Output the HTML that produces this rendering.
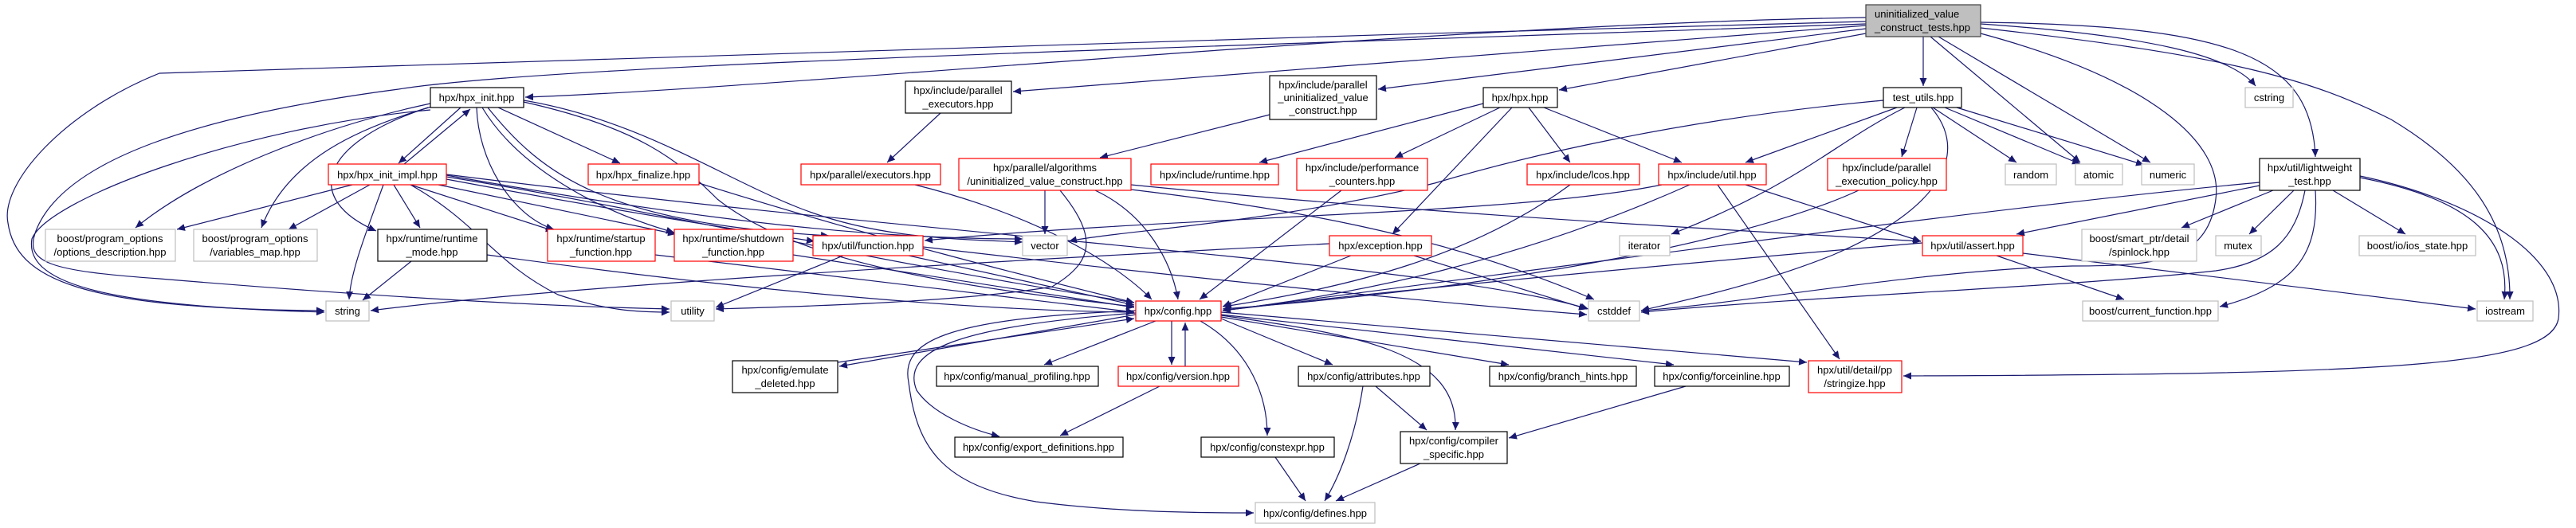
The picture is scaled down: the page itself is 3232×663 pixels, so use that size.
<!DOCTYPE html>
<html><head><meta charset="utf-8"><style>
html,body{margin:0;padding:0;background:#fff;width:3232px;height:663px;overflow:hidden}
svg text{font-family:"Liberation Sans",Arial,sans-serif;font-size:13px;fill:#000}
</style></head><body>
<svg width="3232" height="663" viewBox="0 0 3232 663" xmlns="http://www.w3.org/2000/svg">
<defs><marker id="a" markerUnits="userSpaceOnUse" markerWidth="11" markerHeight="9" refX="10" refY="4.5" orient="auto"><path d="M0,0 L10,4.5 L0,9 z" fill="#191970"/></marker></defs>
<g fill="none" stroke="#191970" stroke-width="1.2" marker-end="url(#a)">
<path d="M2341,22 C1800,30 1000,110 659,122"/>
<path d="M2341,27 C1500,50 400,80 200,92 C80,140 0,230 10,280 C20,350 100,388 407,390"/>
<path d="M2341,30 C1500,60 700,80 500,112 C250,145 80,200 45,290 C30,330 60,340 200,350 C500,375 700,385 840,388"/>
<path d="M2341,32 L1271,115"/>
<path d="M2341,36 L1729,112"/>
<path d="M2341,42 L1956,113"/>
<path d="M2413,46 L2413,108"/>
<path d="M2422,46 L2610,204"/>
<path d="M2432,46 L2698,204"/>
<path d="M2485,30 C2700,45 2800,70 2830,108"/>
<path d="M2485,28 C2800,32 2900,70 2905,197"/>
<path d="M2485,35 C2800,70 2900,100 3000,150 C3100,210 3150,280 3149,376"/>
<path d="M2485,42 C2700,100 2790,180 2780,250 C2770,330 2700,334 2600,334 C2400,340 2200,380 2059,390"/>
<path d="M578,135 L500,205"/>
<path d="M507,206 L590,137"/>
<path d="M540,130 C400,160 250,220 170,286"/>
<path d="M545,133 C450,160 360,200 328,286"/>
<path d="M537,135 C400,180 380,250 472,290"/>
<path d="M540,138 C300,160 60,250 40,300 C30,360 150,385 407,392"/>
<path d="M625,135 L778,205"/>
<path d="M598,135 C600,200 640,270 695,288"/>
<path d="M605,135 C650,210 750,265 846,292"/>
<path d="M612,135 C680,220 760,280 1040,296"/>
<path d="M657,128 C800,160 850,200 900,250 C1000,330 1200,360 1423,385"/>
<path d="M657,126 C800,150 900,220 1000,260 C1100,300 1200,300 1283,304"/>
<path d="M442,232 L222,288"/>
<path d="M464,232 L362,288"/>
<path d="M494,232 L527,286"/>
<path d="M481,232 C460,290 440,340 438,376"/>
<path d="M515,232 L695,290"/>
<path d="M550,232 L848,294"/>
<path d="M560,225 C800,270 1000,300 1022,303"/>
<path d="M560,222 C800,260 1100,330 1423,380"/>
<path d="M515,232 C600,280 620,330 700,370 C760,390 800,392 840,392"/>
<path d="M560,220 C900,280 1100,300 1283,300"/>
<path d="M560,219 C1200,300 1800,330 1993,388"/>
<path d="M516,328 L455,377"/>
<path d="M611,320 C900,360 1200,390 1423,392"/>
<path d="M822,320 L1423,392"/>
<path d="M995,320 L1423,386"/>
<path d="M877,230 C1100,300 1300,350 1423,380"/>
<path d="M1058,321 L898,386"/>
<path d="M1140,321 L1423,383"/>
<path d="M1158,310 C1500,350 1800,380 1991,395"/>
<path d="M1180,142 L1113,204"/>
<path d="M1148,232 C1300,270 1400,330 1445,376"/>
<path d="M1593,144 L1380,198"/>
<path d="M1311,239 L1311,294"/>
<path d="M1374,239 C1440,270 1470,330 1478,376"/>
<path d="M1330,239 C1380,300 1370,330 1320,360 C1200,380 1000,385 898,388"/>
<path d="M1419,238 C1600,260 1800,290 2000,376"/>
<path d="M1419,232 C1800,270 2200,290 2410,303"/>
<path d="M1683,239 L1505,376"/>
<path d="M1970,232 C1850,320 1700,360 1535,385"/>
<path d="M2120,232 C1900,330 1700,370 1534,390"/>
<path d="M2085,232 C1900,270 1500,270 1160,302"/>
<path d="M2190,232 L2410,303"/>
<path d="M2155,232 L2308,451"/>
<path d="M1861,130 L1580,204"/>
<path d="M1882,135 L1750,198"/>
<path d="M1897,135 L1747,294"/>
<path d="M1918,135 L1970,204"/>
<path d="M1937,135 L2110,204"/>
<path d="M1695,321 L1534,385"/>
<path d="M1668,306 C1200,330 700,360 465,390"/>
<path d="M1774,321 L1991,388"/>
<path d="M2380,135 L2190,204"/>
<path d="M2405,135 L2386,197"/>
<path d="M2425,135 L2530,204"/>
<path d="M2440,135 L2610,206"/>
<path d="M2455,135 L2690,207"/>
<path d="M2390,135 C2300,180 2260,230 2097,294"/>
<path d="M2423,135 C2470,190 2440,260 2300,320 C2200,360 2100,380 2059,390"/>
<path d="M2363,126 C2100,150 1900,200 1800,230 C1600,280 1400,290 1341,303"/>
<path d="M2332,239 C2200,300 1900,360 1534,388"/>
<path d="M2412,305 C2000,340 1700,370 1534,390"/>
<path d="M2505,321 L2665,376"/>
<path d="M2538,318 L3106,388"/>
<path d="M2835,233 L2530,294"/>
<path d="M2835,229 C2500,260 2000,330 1534,390"/>
<path d="M2892,239 C2880,300 2850,330 2780,340 C2600,360 2300,370 2059,392"/>
<path d="M2905,239 C2910,320 2880,360 2785,385"/>
<path d="M2852,239 L2737,286"/>
<path d="M2878,239 L2822,294"/>
<path d="M2927,239 L3018,294"/>
<path d="M2961,223 C3100,250 3150,300 3142,376"/>
<path d="M2961,221 C3100,250 3220,320 3210,400 C3200,460 3000,470 2388,472"/>
<path d="M1425,395 L1053,460"/>
<path d="M1051,455 L1423,400"/>
<path d="M1450,403 L1310,458"/>
<path d="M1470,403 L1470,458"/>
<path d="M1487,460 L1487,405"/>
<path d="M1425,393 C1200,410 1130,440 1150,490 C1170,520 1220,540 1254,548"/>
<path d="M1425,390 C1180,400 1130,430 1140,480 C1150,560 1180,610 1300,630 C1400,643 1500,644 1573,644"/>
<path d="M1506,403 C1570,440 1590,500 1590,547"/>
<path d="M1532,400 L1672,458"/>
<path d="M1532,398 L1893,458"/>
<path d="M1532,395 L2100,458"/>
<path d="M1532,392 L2267,455"/>
<path d="M1532,396 C1700,420 1830,440 1826,540"/>
<path d="M1455,485 L1330,547"/>
<path d="M1710,485 C1700,550 1680,600 1662,629"/>
<path d="M1726,485 L1790,540"/>
<path d="M1600,574 L1638,629"/>
<path d="M1782,582 L1676,629"/>
<path d="M2115,485 L1893,550"/>
</g>
<g stroke-width="1.2">
<rect x="2341" y="6" width="144" height="40" fill="#bfbfbf" stroke="#404040"/>
<text x="2352" y="22">uninitialized_value</text><text x="2352" y="39">_construct_tests.hpp</text>
<g fill="#fff" stroke="#000">
<rect x="540" y="110" width="117" height="25"/>
<rect x="474" y="288" width="137" height="40"/>
<rect x="1136" y="102" width="133" height="40"/>
<rect x="919" y="453" width="132" height="40"/>
<rect x="1175" y="460" width="203" height="25"/>
<rect x="1198" y="549" width="211" height="25"/>
<rect x="1507" y="549" width="167" height="25"/>
<rect x="1593" y="95" width="134" height="55"/>
<rect x="1861" y="110" width="93" height="25"/>
<rect x="1629" y="460" width="165" height="25"/>
<rect x="1869" y="460" width="184" height="25"/>
<rect x="2076" y="460" width="169" height="25"/>
<rect x="1757" y="542" width="134" height="40"/>
<rect x="2363" y="110" width="98" height="25"/>
<rect x="2835" y="199" width="126" height="40"/>
</g>
<g fill="#fff" stroke="#ff0000">
<rect x="412" y="206" width="148" height="26"/>
<rect x="687" y="288" width="135" height="40"/>
<rect x="738" y="206" width="139" height="26"/>
<rect x="1005" y="206" width="175" height="26"/>
<rect x="1203" y="199" width="216" height="40"/>
<rect x="1444" y="206" width="160" height="26"/>
<rect x="846" y="288" width="149" height="40"/>
<rect x="1020" y="296" width="138" height="25"/>
<rect x="1425" y="378" width="107" height="25"/>
<rect x="1403" y="460" width="151" height="25"/>
<rect x="1627" y="199" width="164" height="40"/>
<rect x="1916" y="206" width="141" height="26"/>
<rect x="2081" y="206" width="135" height="26"/>
<rect x="2293" y="199" width="149" height="40"/>
<rect x="1668" y="296" width="128" height="25"/>
<rect x="2269" y="453" width="117" height="40"/>
<rect x="2412" y="296" width="126" height="25"/>
</g>
<g fill="#fff" stroke="#bfbfbf">
<rect x="57" y="288" width="163" height="40"/>
<rect x="243" y="288" width="155" height="40"/>
<rect x="409" y="378" width="54" height="25"/>
<rect x="1283" y="296" width="56" height="25"/>
<rect x="842" y="378" width="54" height="25"/>
<rect x="1575" y="631" width="150" height="26"/>
<rect x="2032" y="296" width="63" height="25"/>
<rect x="1993" y="378" width="64" height="25"/>
<rect x="2817" y="110" width="60" height="25"/>
<rect x="2516" y="206" width="64" height="26"/>
<rect x="2604" y="206" width="59" height="26"/>
<rect x="2687" y="206" width="66" height="26"/>
<rect x="2612" y="288" width="144" height="40"/>
<rect x="2780" y="296" width="57" height="25"/>
<rect x="2960" y="296" width="146" height="25"/>
<rect x="2613" y="378" width="170" height="25"/>
<rect x="3108" y="378" width="70" height="25"/>
</g>
</g>
<g text-anchor="middle">
<text x="598" y="127">hpx/hpx_init.hpp</text>
<text x="542" y="304">hpx/runtime/runtime</text><text x="542" y="321">_mode.hpp</text>
<text x="1202" y="118">hpx/include/parallel</text><text x="1202" y="135">_executors.hpp</text>
<text x="985" y="469">hpx/config/emulate</text><text x="985" y="486">_deleted.hpp</text>
<text x="1276" y="477">hpx/config/manual_profiling.hpp</text>
<text x="1303" y="566">hpx/config/export_definitions.hpp</text>
<text x="1590" y="566">hpx/config/constexpr.hpp</text>
<text x="1660" y="111">hpx/include/parallel</text><text x="1660" y="127">_uninitialized_value</text><text x="1660" y="143">_construct.hpp</text>
<text x="1907" y="127">hpx/hpx.hpp</text>
<text x="1711" y="477">hpx/config/attributes.hpp</text>
<text x="1961" y="477">hpx/config/branch_hints.hpp</text>
<text x="2160" y="477">hpx/config/forceinline.hpp</text>
<text x="1824" y="558">hpx/config/compiler</text><text x="1824" y="575">_specific.hpp</text>
<text x="2413" y="127">test_utils.hpp</text>
<text x="2898" y="215">hpx/util/lightweight</text><text x="2898" y="232">_test.hpp</text>
<text x="486" y="224">hpx/hpx_init_impl.hpp</text>
<text x="754" y="304">hpx/runtime/startup</text><text x="754" y="321">_function.hpp</text>
<text x="807" y="224">hpx/hpx_finalize.hpp</text>
<text x="1092" y="224">hpx/parallel/executors.hpp</text>
<text x="1311" y="215">hpx/parallel/algorithms</text><text x="1311" y="232">/uninitialized_value_construct.hpp</text>
<text x="1524" y="224">hpx/include/runtime.hpp</text>
<text x="920" y="304">hpx/runtime/shutdown</text><text x="920" y="321">_function.hpp</text>
<text x="1089" y="313">hpx/util/function.hpp</text>
<text x="1478" y="395">hpx/config.hpp</text>
<text x="1478" y="477">hpx/config/version.hpp</text>
<text x="1709" y="215">hpx/include/performance</text><text x="1709" y="232">_counters.hpp</text>
<text x="1986" y="224">hpx/include/lcos.hpp</text>
<text x="2148" y="224">hpx/include/util.hpp</text>
<text x="2367" y="215">hpx/include/parallel</text><text x="2367" y="232">_execution_policy.hpp</text>
<text x="1732" y="313">hpx/exception.hpp</text>
<text x="2327" y="469">hpx/util/detail/pp</text><text x="2327" y="486">/stringize.hpp</text>
<text x="2475" y="313">hpx/util/assert.hpp</text>
<text x="138" y="304">boost/program_options</text><text x="138" y="321">/options_description.hpp</text>
<text x="320" y="304">boost/program_options</text><text x="320" y="321">/variables_map.hpp</text>
<text x="436" y="395">string</text>
<text x="1311" y="313">vector</text>
<text x="869" y="395">utility</text>
<text x="1650" y="649">hpx/config/defines.hpp</text>
<text x="2063" y="313">iterator</text>
<text x="2025" y="395">cstddef</text>
<text x="2847" y="127">cstring</text>
<text x="2548" y="224">random</text>
<text x="2633" y="224">atomic</text>
<text x="2720" y="224">numeric</text>
<text x="2684" y="304">boost/smart_ptr/detail</text><text x="2684" y="321">/spinlock.hpp</text>
<text x="2808" y="313">mutex</text>
<text x="3033" y="313">boost/io/ios_state.hpp</text>
<text x="2698" y="395">boost/current_function.hpp</text>
<text x="3143" y="395">iostream</text>
</g>
</svg>
</body></html>
